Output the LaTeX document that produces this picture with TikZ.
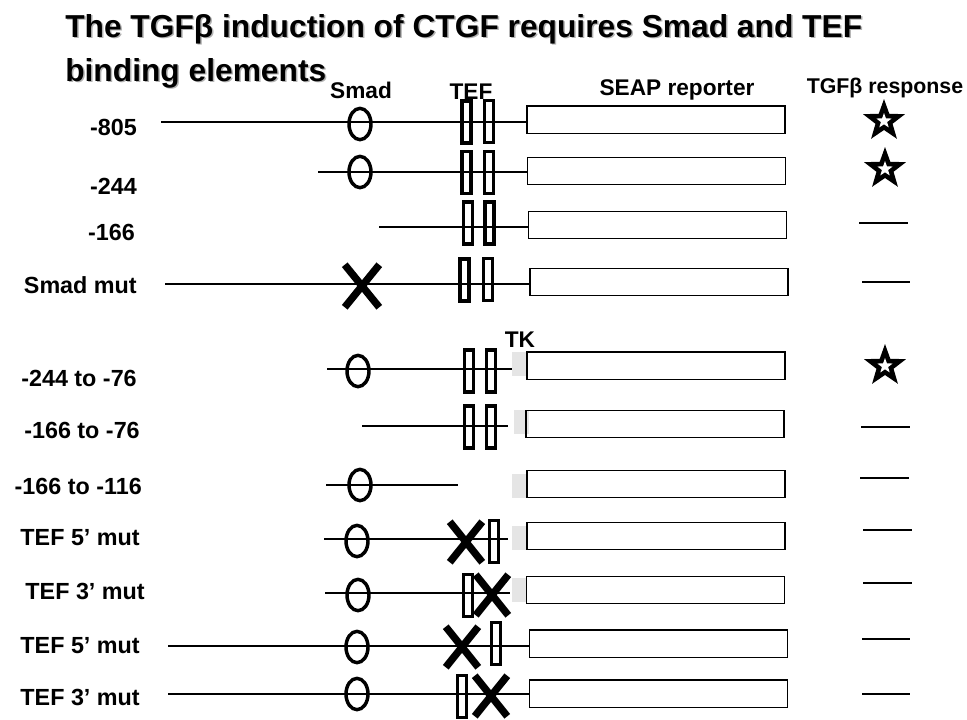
\documentclass[tikz,border=0pt]{standalone}
\usepackage{fontspec}
\setmainfont{Liberation Sans}
\usetikzlibrary{shapes.geometric}
\begin{document}
\begin{tikzpicture}[x=0.75pt,y=-0.75pt,
  thinline/.style={line width=1.1pt},
  title/.style={font=\bfseries\fontsize{23.8}{28}\selectfont, anchor=base west, inner sep=0},
  lbl/.style={font=\bfseries\fontsize{17.5}{20}\selectfont, anchor=east, inner sep=0},
  hdr/.style={font=\bfseries\fontsize{17}{20}\selectfont, inner sep=0},
  oval/.style={ellipse, draw, line width=2.6pt, minimum width=16.5pt, minimum height=23.5pt, inner sep=0},
  tef/.style={rectangle, draw, line width=2.5pt, minimum width=6.75pt, minimum height=31.5pt, inner sep=0},
  mutx/.style={rectangle, inner sep=0, minimum width=24pt, minimum height=30pt},
  bigx/.style={mutx, minimum width=25.5pt, minimum height=31.5pt},
  xstroke/.style={line width=5.5pt},
  reporter/.style={rectangle, draw, line width=1pt, minimum width=193.5pt, minimum height=20.5pt, inner sep=0},
  tk/.style={rectangle, fill=black!10, minimum width=11.25pt, minimum height=18pt, inner sep=0},
  resp/.style={star, star points=5, star point ratio=2.45, fill=black, minimum size=33pt, inner sep=0},
  respin/.style={star, star points=5, star point ratio=2.45, fill=white, minimum size=12pt, inner sep=0},
  nores/.style={line width=1pt},
]
\useasboundingbox (0,0) rectangle (967,719);

% title
\node[title, text=black!30] (t1s) at (66.5,38.5) {The TGFβ induction of CTGF requires Smad and TEF};
\node[title, text=black!30] (t2s) at (66.5,82.5) {binding elements};
\node[title] (t1) at (65,37) {The TGFβ induction of CTGF requires Smad and TEF};
\node[title] (t2) at (65,81) {binding elements};

% headers
\node[hdr] (hsmad) at (361,90) {Smad};
\node[hdr] (htef) at (471,92) {TEF};
\node[hdr] (hseap) at (677,90) {SEAP reporter};
\node[hdr, font=\bfseries\fontsize{16}{19}\selectfont] (hresp) at (885,88) {TGFβ response};
\node[hdr] (htk) at (520,340) {TK};

% row a: -805
\node[lbl] (la) at (137,127) {-805};
\coordinate (sa) at (161,122);
\node[reporter] (ba) at (656,119.5) {};
\draw[thinline] (sa) -- (sa -| ba.west);
\node[oval] (oa) at (360,124) {};
\node[tef] (ta1) at (466.5,122) {};
\node[tef] (ta2) at (489,121.5) {};
\node[resp] (ra) at (884,121) {};
\node[respin] (rai) at (ra) {};

% row b: -244
\node[lbl] (lb) at (137,186) {-244};
\coordinate (sb) at (318,172);
\node[reporter] (bb) at (656.5,171) {};
\draw[thinline] (sb) -- (sb -| bb.west);
\node[oval] (ob) at (360,172) {};
\node[tef] (tb1) at (466.5,172.5) {};
\node[tef] (tb2) at (489,172.5) {};
\node[resp] (rb) at (885,169) {};
\node[respin] (rbi) at (rb) {};

% row c: -166
\node[lbl] (lc) at (135,232) {-166};
\coordinate (sc) at (379,227);
\node[reporter] (bc) at (657.5,225) {};
\draw[thinline] (sc) -- (sc -| bc.west);
\node[tef] (tc1) at (468,223) {};
\node[tef] (tc2) at (489.5,223) {};
\coordinate (rc1) at (859,223); \coordinate (rc2) at (908,223);
\draw[nores] (rc1) -- (rc2);

% row d: Smad mut
\node[lbl] (ld) at (137,285) {Smad mut};
\coordinate (sd) at (165,284);
\node[reporter] (bd) at (659,282) {};
\draw[thinline] (sd) -- (sd -| bd.west);
\node[bigx] (xd) at (362,286) {};
\draw[xstroke] (xd.north west) -- (xd.south east) (xd.north east) -- (xd.south west);
\node[tef] (td1) at (464.5,280) {};
\node[tef] (td2) at (488,279.5) {};
\coordinate (rd1) at (862,282); \coordinate (rd2) at (910,282);
\draw[nores] (rd1) -- (rd2);

% row e: -244 to -76
\node[lbl] (le) at (137,378) {-244 to -76};
\coordinate (se) at (327,369); \coordinate (ee) at (512,369);
\draw[thinline] (se) -- (ee);
\node[oval] (oe) at (358,371) {};
\node[tef] (te1) at (469,371) {};
\node[tef] (te2) at (491,371) {};
\node[tk] (ke) at (519.5,364) {};
\node[reporter] (be) at (656,365.5) {};
\node[resp] (re) at (885,366) {};
\node[respin] (rei) at (re) {};

% row f: -166 to -76
\node[lbl] (lf) at (140,430) {-166 to -76};
\coordinate (sf) at (362,426); \coordinate (ef) at (508,426);
\draw[thinline] (sf) -- (ef);
\node[tef] (tf1) at (469,427) {};
\node[tef] (tf2) at (491,427) {};
\node[tk] (kf) at (521.5,422) {};
\node[reporter] (bf) at (655,424) {};
\coordinate (rf1) at (861,427); \coordinate (rf2) at (910,427);
\draw[nores] (rf1) -- (rf2);

% row g: -166 to -116
\node[lbl] (lg) at (142,486) {-166 to -116};
\coordinate (sg) at (326,485); \coordinate (eg) at (458,485);
\draw[thinline] (sg) -- (eg);
\node[oval] (og) at (360,485) {};
\node[tk] (kg) at (519.5,486) {};
\node[reporter] (bg) at (656,484) {};
\coordinate (rg1) at (860,478); \coordinate (rg2) at (909,478);
\draw[nores] (rg1) -- (rg2);

% row h: TEF 5' mut
\node[lbl] (lh) at (140,538) {TEF 5’ mut};
\coordinate (sh) at (324,539); \coordinate (eh) at (508,539);
\draw[thinline] (sh) -- (eh);
\node[oval] (oh) at (357,541) {};
\node[mutx] (xh) at (466,542) {};
\draw[xstroke] (xh.north west) -- (xh.south east) (xh.north east) -- (xh.south west);
\node[tef] (th) at (494,541.5) {};
\node[tk] (kh) at (519.5,538) {};
\node[reporter] (bh) at (656,536) {};
\coordinate (rh1) at (863,530); \coordinate (rh2) at (912,530);
\draw[nores] (rh1) -- (rh2);

% row i: TEF 3' mut
\node[lbl] (li) at (145,591) {TEF 3’ mut};
\coordinate (si) at (325,593); \coordinate (ei) at (510,593);
\draw[thinline] (si) -- (ei);
\node[oval] (oi) at (358,595) {};
\node[tef] (ti) at (468,595.5) {};
\node[mutx] (xi) at (492,595) {};
\draw[xstroke] (xi.north west) -- (xi.south east) (xi.north east) -- (xi.south west);
\node[tk] (ki) at (519.5,590) {};
\node[reporter] (bi) at (655.5,590) {};
\coordinate (ri1) at (863,583); \coordinate (ri2) at (912,583);
\draw[nores] (ri1) -- (ri2);

% row j: TEF 5' mut
\node[lbl] (lj) at (140,646) {TEF 5’ mut};
\coordinate (sj) at (168,646);
\node[reporter] (bj) at (658.5,643.5) {};
\draw[thinline] (sj) -- (sj -| bj.west);
\node[oval] (oj) at (357,647) {};
\node[mutx] (xj) at (462,647) {};
\draw[xstroke] (xj.north west) -- (xj.south east) (xj.north east) -- (xj.south west);
\node[tef] (tj) at (496,643.5) {};
\coordinate (rj1) at (862,639); \coordinate (rj2) at (910,639);
\draw[nores] (rj1) -- (rj2);

% row k: TEF 3' mut
\node[lbl] (lk) at (140,697) {TEF 3’ mut};
\coordinate (sk) at (168,694);
\node[reporter] (bk) at (658.5,693.5) {};
\draw[thinline] (sk) -- (sk -| bk.west);
\node[oval] (ok) at (357,694) {};
\node[tef] (tk1) at (462,696.5) {};
\node[mutx] (xk) at (491,696) {};
\draw[xstroke] (xk.north west) -- (xk.south east) (xk.north east) -- (xk.south west);
\coordinate (rk1) at (862,694); \coordinate (rk2) at (910,694);
\draw[nores] (rk1) -- (rk2);
\end{tikzpicture}
\end{document}
